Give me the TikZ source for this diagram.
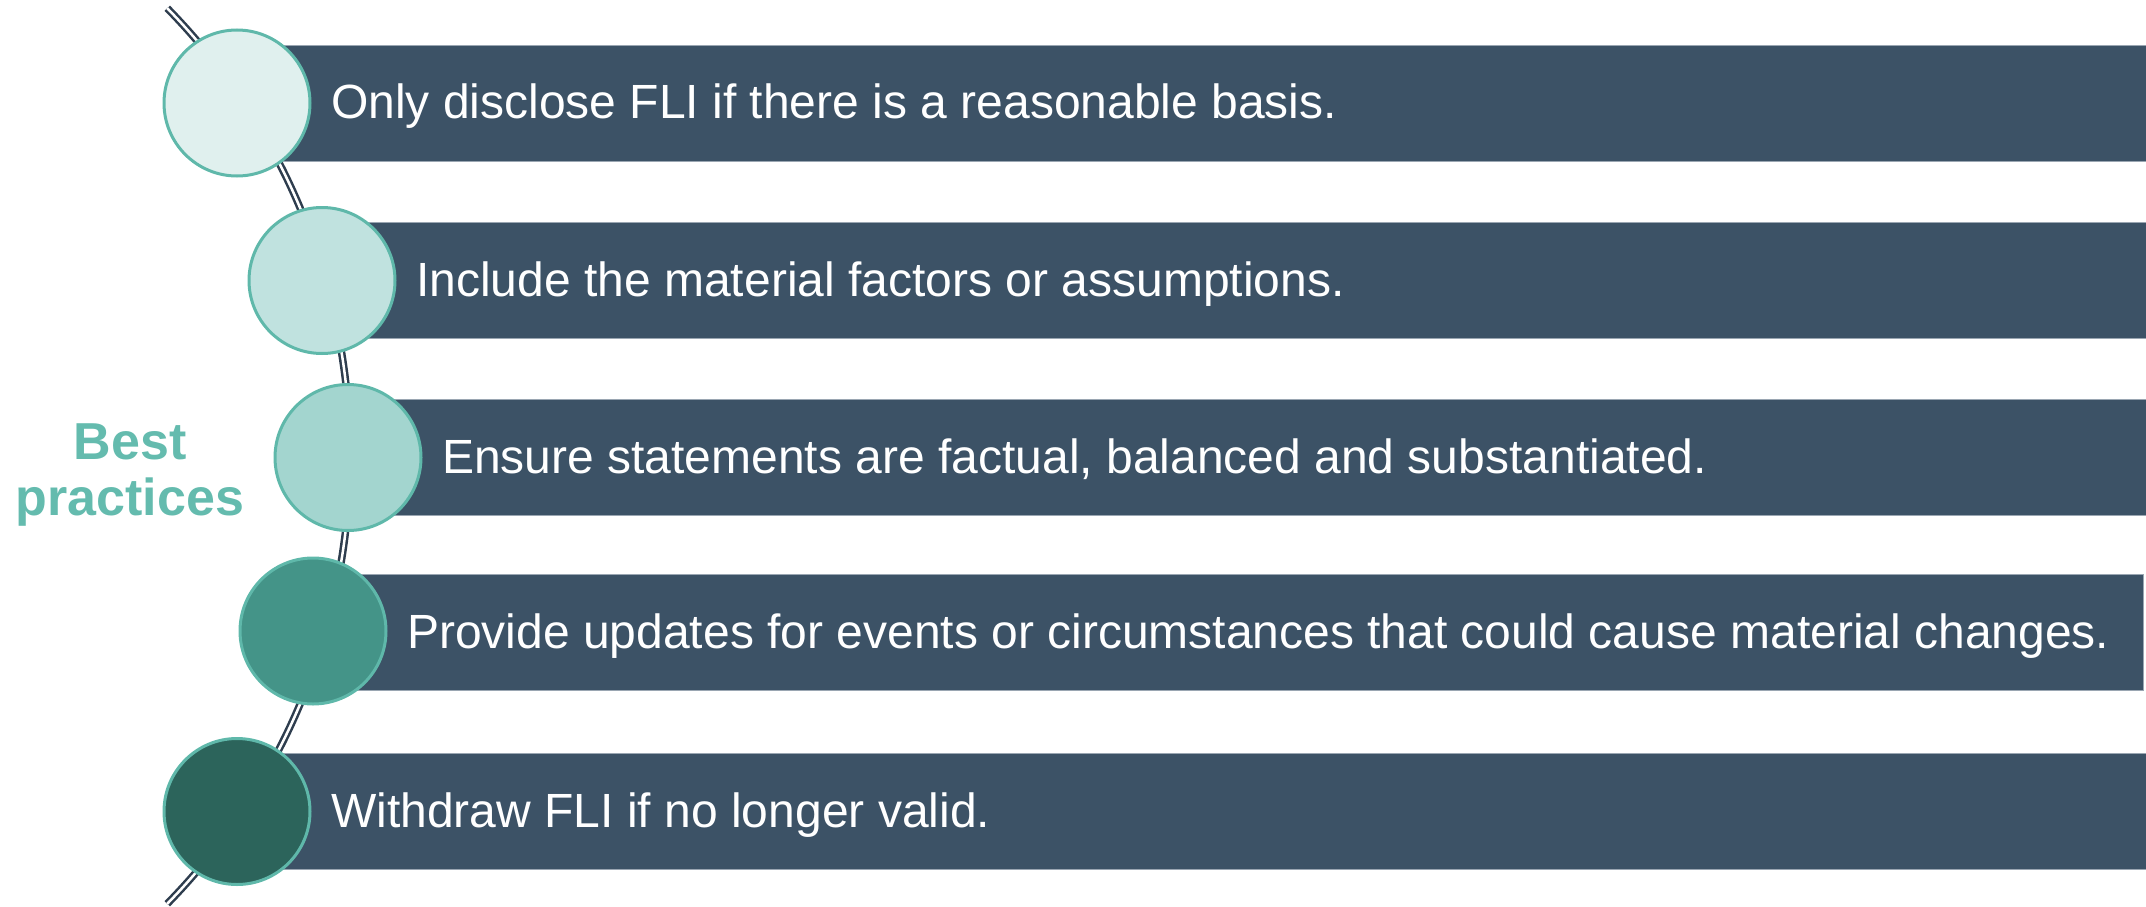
\documentclass[tikz,border=0pt]{standalone}
\usepackage{fontspec}
\setmainfont{Liberation Sans}
\definecolor{barfill}{HTML}{3C5266}
\definecolor{baredge}{HTML}{9AA6B2}
\definecolor{ringc}{HTML}{5FB8AA}
\definecolor{labelc}{HTML}{64BBAE}
\definecolor{arcc}{HTML}{2E3D4E}
\definecolor{dotA}{HTML}{E0F0EE}
\definecolor{dotB}{HTML}{C0E2DF}
\definecolor{dotC}{HTML}{A3D5CF}
\definecolor{dotD}{HTML}{449488}
\definecolor{dotE}{HTML}{2C645B}
\begin{document}
\begin{tikzpicture}[x=1pt,y=-1pt,
  dot/.style={circle, draw=ringc, line width=3pt, minimum size=146pt, inner sep=0pt},
  band/.style={rectangle, fill=barfill, draw=baredge, line width=0.8pt,
               minimum height=116pt, inner sep=0pt, anchor=west},
  item/.style={anchor=base west, text=white, inner sep=0pt,
               font=\fontsize{48}{58}\selectfont},
  heading/.style={anchor=base, text=labelc, inner sep=0pt,
                  font=\bfseries\fontsize{52}{57}\selectfont},
  rail/.style={draw=arcc, line width=2.5pt, double=white, double distance=2.5pt}
]
\useasboundingbox (0,0) rectangle (2146,907);

% curved rail behind the steps
\coordinate (railtop) at ({-290+640*cos(44.4)},{456-640*sin(44.4)});
\draw[rail] (railtop) arc[start angle=-44.4, end angle=44.4, radius=640];

% bands
\node[band, minimum width=1909pt] (b1) at (237,103) {};
\node[band, minimum width=1824pt] (b2) at (322,280.5) {};
\node[band, minimum width=1798pt] (b3) at (348,457.5) {};
\node[band, minimum width=1830pt] (b4) at (313,632.5) {};
\node[band, minimum width=1909pt] (b5) at (237,811.5) {};

% step circles
\node[dot, fill=dotA] (c1) at (237,103) {};
\node[dot, fill=dotB] (c2) at (322,280.5) {};
\node[dot, fill=dotC] (c3) at (348,457.5) {};
\node[dot, fill=dotD] (c4) at (313,631) {};
\node[dot, fill=dotE] (c5) at (237,811.5) {};

% step texts
\node[item] (t1) at (331,118.5) {Only disclose FLI if there is a reasonable basis.};
\node[item] (t2) at (416,296) {Include the material factors or assumptions.};
\node[item] (t3) at (442,473) {Ensure statements are factual, balanced and substantiated.};
\node[item] (t4) at (407,648) {Provide updates for events or circumstances that could cause material changes.};
\node[item] (t5) at (331,827) {Withdraw FLI if no longer valid.};

% heading
\node[heading] (h1) at (130,459) {Best};
\node[heading] (h2) at (130,515) {practices};
\end{tikzpicture}
\end{document}
